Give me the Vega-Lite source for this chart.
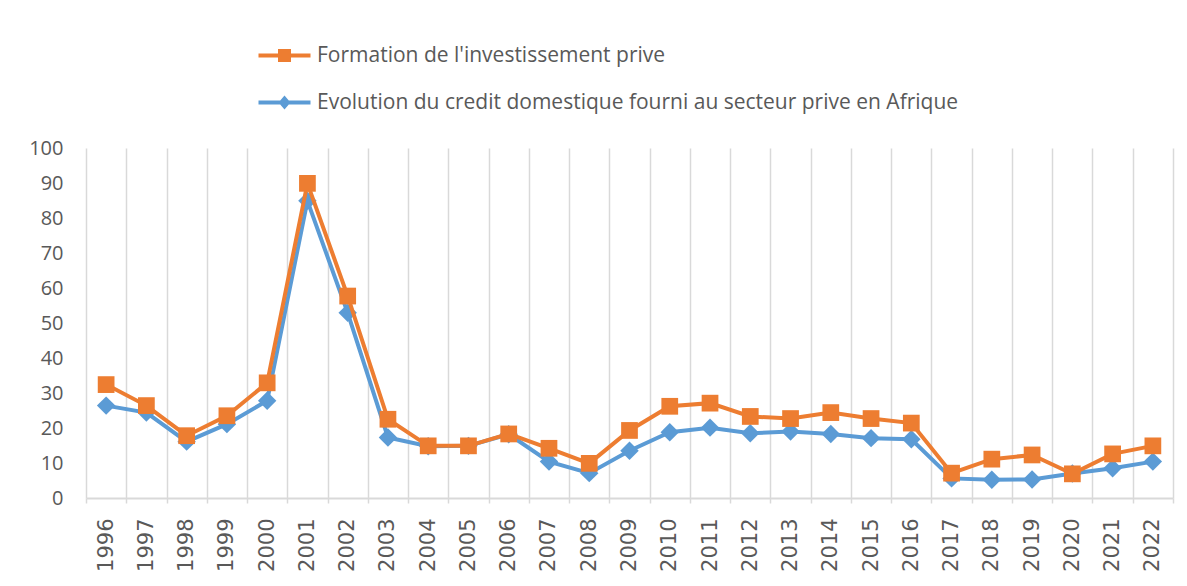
{
  "$schema": "https://vega.github.io/schema/vega-lite/v6.json",
  "width": 1087,
  "height": 350,
  "autosize": {"type": "none"},
  "padding": {"left": 86, "top": 148, "right": 14, "bottom": 88},
  "background": "white",
  "config": {"view": {"stroke": null}},
  "data": {
    "values": [
      {"year": "1996", "series": "Formation de l'investissement prive", "value": 32.4},
      {"year": "1997", "series": "Formation de l'investissement prive", "value": 26.4},
      {"year": "1998", "series": "Formation de l'investissement prive", "value": 17.8},
      {"year": "1999", "series": "Formation de l'investissement prive", "value": 23.5},
      {"year": "2000", "series": "Formation de l'investissement prive", "value": 32.9},
      {"year": "2001", "series": "Formation de l'investissement prive", "value": 89.9},
      {"year": "2002", "series": "Formation de l'investissement prive", "value": 57.7},
      {"year": "2003", "series": "Formation de l'investissement prive", "value": 22.5},
      {"year": "2004", "series": "Formation de l'investissement prive", "value": 14.9},
      {"year": "2005", "series": "Formation de l'investissement prive", "value": 14.9},
      {"year": "2006", "series": "Formation de l'investissement prive", "value": 18.3},
      {"year": "2007", "series": "Formation de l'investissement prive", "value": 14.2},
      {"year": "2008", "series": "Formation de l'investissement prive", "value": 9.9},
      {"year": "2009", "series": "Formation de l'investissement prive", "value": 19.3},
      {"year": "2010", "series": "Formation de l'investissement prive", "value": 26.2},
      {"year": "2011", "series": "Formation de l'investissement prive", "value": 27.1},
      {"year": "2012", "series": "Formation de l'investissement prive", "value": 23.3},
      {"year": "2013", "series": "Formation de l'investissement prive", "value": 22.7},
      {"year": "2014", "series": "Formation de l'investissement prive", "value": 24.4},
      {"year": "2015", "series": "Formation de l'investissement prive", "value": 22.7},
      {"year": "2016", "series": "Formation de l'investissement prive", "value": 21.4},
      {"year": "2017", "series": "Formation de l'investissement prive", "value": 7.1},
      {"year": "2018", "series": "Formation de l'investissement prive", "value": 11.1},
      {"year": "2019", "series": "Formation de l'investissement prive", "value": 12.3},
      {"year": "2020", "series": "Formation de l'investissement prive", "value": 6.9},
      {"year": "2021", "series": "Formation de l'investissement prive", "value": 12.6},
      {"year": "2022", "series": "Formation de l'investissement prive", "value": 14.9},
      {"year": "1996", "series": "Evolution du credit domestique fourni au secteur prive en Afrique", "value": 26.4},
      {"year": "1997", "series": "Evolution du credit domestique fourni au secteur prive en Afrique", "value": 24.4},
      {"year": "1998", "series": "Evolution du credit domestique fourni au secteur prive en Afrique", "value": 16.1},
      {"year": "1999", "series": "Evolution du credit domestique fourni au secteur prive en Afrique", "value": 21.1},
      {"year": "2000", "series": "Evolution du credit domestique fourni au secteur prive en Afrique", "value": 27.8},
      {"year": "2001", "series": "Evolution du credit domestique fourni au secteur prive en Afrique", "value": 84.9},
      {"year": "2002", "series": "Evolution du credit domestique fourni au secteur prive en Afrique", "value": 52.9},
      {"year": "2003", "series": "Evolution du credit domestique fourni au secteur prive en Afrique", "value": 17.3},
      {"year": "2004", "series": "Evolution du credit domestique fourni au secteur prive en Afrique", "value": 14.8},
      {"year": "2005", "series": "Evolution du credit domestique fourni au secteur prive en Afrique", "value": 14.9},
      {"year": "2006", "series": "Evolution du credit domestique fourni au secteur prive en Afrique", "value": 18.2},
      {"year": "2007", "series": "Evolution du credit domestique fourni au secteur prive en Afrique", "value": 10.4},
      {"year": "2008", "series": "Evolution du credit domestique fourni au secteur prive en Afrique", "value": 7.1},
      {"year": "2009", "series": "Evolution du credit domestique fourni au secteur prive en Afrique", "value": 13.5},
      {"year": "2010", "series": "Evolution du credit domestique fourni au secteur prive en Afrique", "value": 18.8},
      {"year": "2011", "series": "Evolution du credit domestique fourni au secteur prive en Afrique", "value": 20.1},
      {"year": "2012", "series": "Evolution du credit domestique fourni au secteur prive en Afrique", "value": 18.5},
      {"year": "2013", "series": "Evolution du credit domestique fourni au secteur prive en Afrique", "value": 19.0},
      {"year": "2014", "series": "Evolution du credit domestique fourni au secteur prive en Afrique", "value": 18.3},
      {"year": "2015", "series": "Evolution du credit domestique fourni au secteur prive en Afrique", "value": 17.1},
      {"year": "2016", "series": "Evolution du credit domestique fourni au secteur prive en Afrique", "value": 16.8},
      {"year": "2017", "series": "Evolution du credit domestique fourni au secteur prive en Afrique", "value": 5.6},
      {"year": "2018", "series": "Evolution du credit domestique fourni au secteur prive en Afrique", "value": 5.2},
      {"year": "2019", "series": "Evolution du credit domestique fourni au secteur prive en Afrique", "value": 5.3},
      {"year": "2020", "series": "Evolution du credit domestique fourni au secteur prive en Afrique", "value": 7.0},
      {"year": "2021", "series": "Evolution du credit domestique fourni au secteur prive en Afrique", "value": 8.5},
      {"year": "2022", "series": "Evolution du credit domestique fourni au secteur prive en Afrique", "value": 10.4}
    ]
  },
  "encoding": {
    "x": {
      "field": "year",
      "type": "ordinal",
      "bandPosition": 0.5,
      "scale": {"type": "band", "paddingInner": 0, "paddingOuter": 0},
      "axis": {
        "title": null,
        "labelAngle": -90,
        "tickBand": "extent",
        "grid": true,
        "gridColor": "#d9d9d9",
        "gridWidth": 1.5,
        "domainColor": "#d9d9d9",
        "domainWidth": 2,
        "tickColor": "#d9d9d9",
        "tickSize": 5,
        "tickWidth": 1.5,
        "labelPadding": 15,
        "labelFont": "DejaVu Sans",
        "labelFontSize": 21,
        "labelColor": "#595959"
      }
    },
    "y": {
      "field": "value",
      "type": "quantitative",
      "scale": {"domain": [0, 100]},
      "axis": {
        "title": null,
        "values": [0, 10, 20, 30, 40, 50, 60, 70, 80, 90, 100],
        "grid": false,
        "domain": false,
        "ticks": false,
        "labelPadding": 23,
        "labelFont": "Open Sans",
        "labelFontSize": 20,
        "labelColor": "#595959"
      }
    },
    "color": {
      "field": "series",
      "type": "nominal",
      "scale": {"domain": ["Formation de l'investissement prive", "Evolution du credit domestique fourni au secteur prive en Afrique"], "range": ["#ED7D31", "#5B9BD5"]},
      "legend": {
        "orient": "none",
        "legendX": 188,
        "legendY": -103,
        "direction": "vertical",
        "title": null,
        "padding": 0,
        "symbolSize": 400,
        "labelOffset": 22,
        "rowPadding": 25,
        "labelLimit": 1000,
        "labelFont": "Open Sans",
        "labelFontSize": 21,
        "labelColor": "#595959",
        "encode": {
          "symbols": {
            "update": {
              "shape": {"signal": "substring(datum.value, 0, 4) == 'Form' ? 'M-2.6,-0.2H2.6V0.2H-2.6Z M-0.65,-0.65H0.65V0.65H-0.65Z' : 'M-2.6,-0.2H2.6V0.2H-2.6Z M0,-0.7L0.6,0L0,0.7L-0.6,0Z'"},
              "fill": {"signal": "substring(datum.value, 0, 4) == 'Form' ? '#ED7D31' : '#5B9BD5'"},
              "stroke": {"value": "transparent"},
              "strokeWidth": {"value": 0},
              "opacity": {"value": 1}
            }
          }
        }
      }
    }
  },
  "layer": [
    {
      "transform": [{"filter": {"field": "series", "equal": "Evolution du credit domestique fourni au secteur prive en Afrique"}}],
      "mark": {"type": "line", "strokeWidth": 4}
    },
    {
      "transform": [{"filter": {"field": "series", "equal": "Evolution du credit domestique fourni au secteur prive en Afrique"}}],
      "mark": {"type": "point", "shape": "diamond", "filled": true, "size": 340, "opacity": 1}
    },
    {
      "transform": [{"filter": {"field": "series", "equal": "Formation de l'investissement prive"}}],
      "mark": {"type": "line", "strokeWidth": 4}
    },
    {
      "transform": [{"filter": {"field": "series", "equal": "Formation de l'investissement prive"}}],
      "mark": {"type": "point", "shape": "square", "filled": true, "size": 280, "opacity": 1}
    }
  ]
}
